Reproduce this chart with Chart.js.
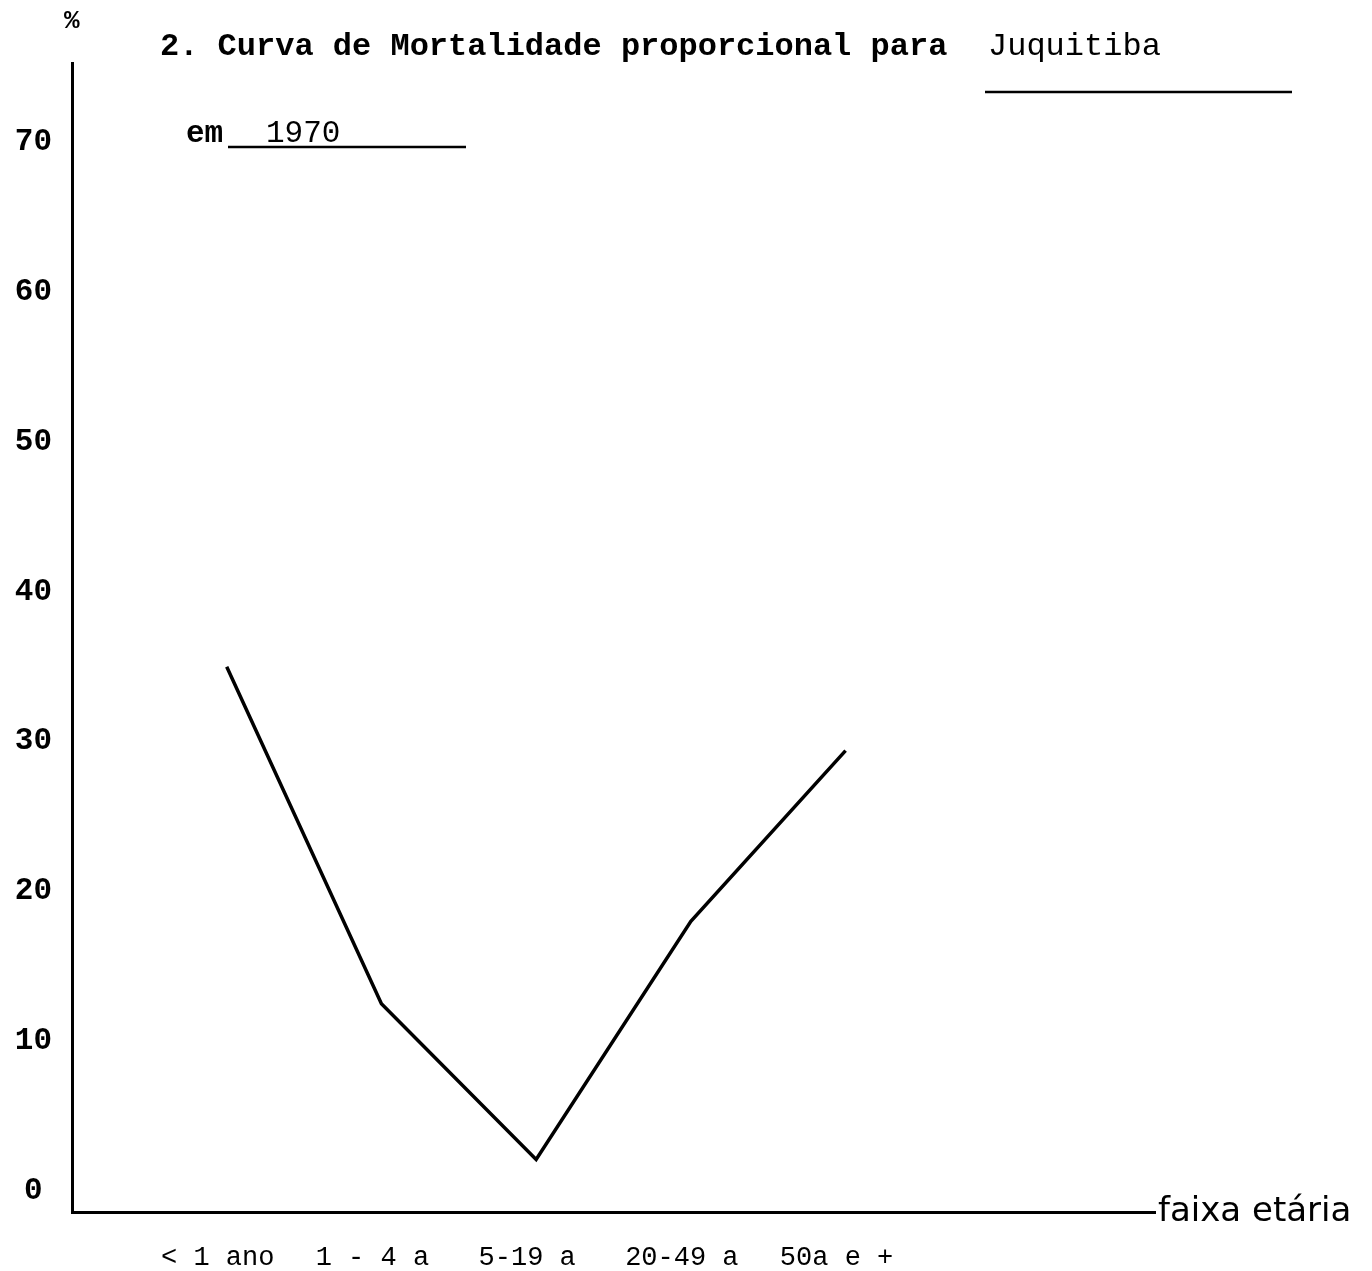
<!DOCTYPE html>
<html>
<head>
<meta charset="utf-8">
<script src="https://cdn.jsdelivr.net/npm/chart.js@4"></script>
<style>
  body { margin: 0; background: #fff; }
  #wrap { width: 1372px; height: 1271px; }
</style>
</head>
<body>
<div id="wrap"><canvas id="chart" width="1372" height="1271"></canvas></div>
<script>
// faixas etarias e mortalidade proporcional (%)
const ageGroups = ['< 1 ano', '1 - 4 a', '5-19 a', '20-49 a', '50a e +'];
const mortality = [35, 12.5, 2.1, 18, 29.4];
const yTicks = [0, 10, 20, 30, 40, 50, 60, 70];

const points = ageGroups.map((g, i) => ({ x: i + 1, y: mortality[i] }));

// textos fora do grafico (titulo, %, rotulo do eixo)
const textPlugin = {
    id: 'textos',
    afterDraw(chart) {
        const { ctx, chartArea } = chart;
        ctx.save();
        ctx.fillStyle = '#000';
        ctx.strokeStyle = '#000';
        ctx.textBaseline = 'alphabetic';
        ctx.textAlign = 'left';

        ctx.font = 'bold 26px "Liberation Mono", monospace';
        ctx.fillText('%', 64, 28);

        ctx.font = 'bold 32px "Liberation Mono", monospace';
        ctx.fillText('2. Curva de Mortalidade proporcional para', 160, 55);
        ctx.font = '32px "Liberation Mono", monospace';
        ctx.fillText('Juquitiba', 988, 55);
        ctx.lineWidth = 2.5;
        ctx.beginPath();
        ctx.moveTo(985, 92); ctx.lineTo(1292, 92);
        ctx.stroke();

        ctx.font = 'bold 31px "Liberation Mono", monospace';
        ctx.fillText('em', 186, 142);
        ctx.font = '31px "Liberation Mono", monospace';
        ctx.fillText('1970', 266, 142);
        ctx.beginPath();
        ctx.moveTo(228, 147); ctx.lineTo(466, 147);
        ctx.stroke();

        ctx.font = '34px "DejaVu Sans", sans-serif';
        ctx.textBaseline = 'middle';
        ctx.fillText('faixa etária', chartArea.right + 3, chartArea.bottom);
        ctx.restore();
    }
};

new Chart(document.getElementById('chart'), {
    type: 'line',
    data: {
        datasets: [{
            data: points,
            borderColor: '#000',
            borderWidth: 3.5,
            pointRadius: 0,
            tension: 0,
            fill: false
        }]
    },
    options: {
        responsive: false,
        animation: false,
        layout: { padding: { left: 0, top: 63, right: 217, bottom: 0 } },
        plugins: { legend: { display: false }, tooltip: { enabled: false } },
        scales: {
            x: {
                type: 'linear',
                min: 0,
                max: 7,
                grid: { display: false },
                border: { display: true, color: '#000', width: 3 },
                afterBuildTicks(scale) {
                    scale.ticks = ageGroups.map((g, i) => ({ value: i + 1 }));
                },
                afterFit(scale) { scale.height = 59; },
                ticks: {
                    color: '#000',
                    padding: 22,
                    maxRotation: 0,
                    autoSkip: false,
                    labelOffset: -9,
                    font: { family: '"Liberation Mono", monospace', size: 27 },
                    callback: (v) => ageGroups[Math.round(v) - 1] || ''
                }
            },
            y: {
                min: -1.4,
                max: 75.3,
                grid: { display: false },
                border: { display: true, color: '#000', width: 3 },
                afterBuildTicks(scale) {
                    scale.ticks = yTicks.map(v => ({ value: v }));
                },
                afterFit(scale) { scale.width = 72; },
                ticks: {
                    color: '#000',
                    padding: 12,
                    crossAlign: 'center',
                    font: { family: '"Liberation Mono", monospace', size: 31, weight: 'bold' }
                }
            }
        }
    },
    plugins: [textPlugin]
});
</script>
</body>
</html>
